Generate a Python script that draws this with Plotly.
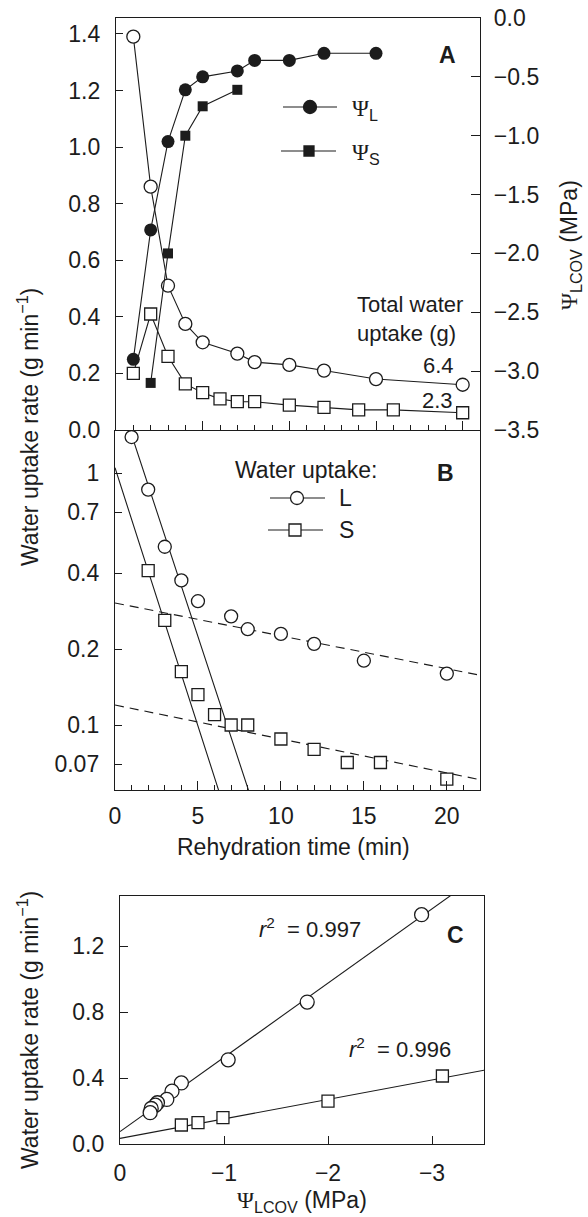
import numpy as np
import plotly.graph_objects as go

W, H = 588, 1217
# ---------------- data ----------------
t_L = [1, 2, 3, 4, 5, 7, 8, 10, 12, 15, 20]
rate_L = [1.39, 0.86, 0.51, 0.375, 0.31, 0.27, 0.24, 0.23, 0.21, 0.18, 0.16]
t_S = [1, 2, 3, 4, 5, 6, 7, 8, 10, 12, 14, 16, 20]
rate_S = [0.20, 0.41, 0.26, 0.163, 0.132, 0.11, 0.10, 0.10, 0.088, 0.08, 0.071, 0.071, 0.061]
t_psiL = [1, 2, 3, 4, 5, 7, 8, 10, 12, 15]
psi_L = [-2.90, -1.80, -1.05, -0.61, -0.50, -0.45, -0.36, -0.36, -0.30, -0.30]
t_psiS = [2, 3, 4, 5, 7]
psi_S = [-3.10, -2.00, -1.00, -0.75, -0.61]
total_uptake = ["6.4", "2.3"]

# panel C
psiC_L = [-2.90, -1.80, -1.04, -0.59, -0.50, -0.45, -0.36, -0.34, -0.30, -0.29]
rateC_L = [1.39, 0.86, 0.51, 0.37, 0.32, 0.27, 0.25, 0.235, 0.215, 0.19]
psiC_S = [-3.10, -2.00, -0.99, -0.75, -0.59]
rateC_S = [0.412, 0.26, 0.16, 0.13, 0.115]
r2_L, r2_S = "0.997", "0.996"

# fitted parameters (a, k) for y = a*exp(-k t)
fast_L = (2.25, 0.461)
slow_L = (0.305, 0.030)
fast_S = (1.05, 0.472)
slow_S = (0.12, 0.031)
# linear regressions in C: rate = b0 + b1*(-psi)
reg_L = (0.075, 0.450)
reg_S = (0.034, 0.118)

# ---------------- style ----------------
INK = "#1c1c1c"
FONT = "Liberation Sans, Arial, sans-serif"
SERIF = "Liberation Serif, Times New Roman, serif"
TICKF = 23


def px_x(p):
    return p / W


def px_y(p):
    return 1 - p / H


fig = go.Figure()

line = dict(color=INK, width=1.1)
open_c = dict(symbol="circle", size=13, color="white", line=dict(width=1.3, color=INK))
open_s = dict(symbol="square", size=12, color="white", line=dict(width=1.3, color=INK))

# Panel A
fig.add_trace(go.Scatter(x=t_L, y=rate_L, mode="lines+markers", line=line, marker=open_c,
                         xaxis="x", yaxis="y"))
fig.add_trace(go.Scatter(x=t_S, y=rate_S, mode="lines+markers", line=line, marker=open_s,
                         xaxis="x", yaxis="y"))
fig.add_trace(go.Scatter(x=t_psiL, y=psi_L, mode="lines+markers", line=line,
                         marker=dict(symbol="circle", size=13, color=INK),
                         xaxis="x", yaxis="y2"))
fig.add_trace(go.Scatter(x=t_psiS, y=psi_S, mode="lines+markers", line=line,
                         marker=dict(symbol="square", size=10, color=INK),
                         xaxis="x", yaxis="y2"))

# Panel B
tt = np.linspace(0, 22, 400)
for a, k in (fast_L, fast_S):
    fig.add_trace(go.Scatter(x=tt, y=a * np.exp(-k * tt), mode="lines", line=dict(color=INK, width=1.1),
                             xaxis="x2", yaxis="y3", hoverinfo="skip"))
for a, k in (slow_L, slow_S):
    fig.add_trace(go.Scatter(x=tt, y=a * np.exp(-k * tt), mode="lines",
                             line=dict(color=INK, width=1.1, dash="9px,6px"),
                             xaxis="x2", yaxis="y3", hoverinfo="skip"))
fig.add_trace(go.Scatter(x=t_L, y=rate_L, mode="markers", marker=open_c, xaxis="x2", yaxis="y3"))
fig.add_trace(go.Scatter(x=t_S[1:], y=rate_S[1:], mode="markers", marker=open_s, xaxis="x2", yaxis="y3"))

# Panel C
pp = np.linspace(0, -3.5, 50)
for b0, b1 in (reg_L, reg_S):
    fig.add_trace(go.Scatter(x=pp, y=b0 - b1 * pp, mode="lines", line=dict(color=INK, width=1.1),
                             xaxis="x3", yaxis="y4", hoverinfo="skip"))
fig.add_trace(go.Scatter(x=psiC_L, y=rateC_L, mode="markers", marker=dict(open_c, size=14),
                         xaxis="x3", yaxis="y4"))
fig.add_trace(go.Scatter(x=psiC_S, y=rateC_S, mode="markers", marker=open_s, xaxis="x3", yaxis="y4"))

axis_common = dict(showline=True, linecolor=INK, linewidth=1.4, ticks="inside", tickcolor=INK,
                   tickwidth=1.2, showgrid=False, zeroline=False,
                   tickfont=dict(family=FONT, size=TICKF, color=INK))

fig.update_layout(
    width=W, height=H, margin=dict(l=0, r=0, t=0, b=0, autoexpand=False),
    paper_bgcolor="white", plot_bgcolor="white", showlegend=False,
    font=dict(family=FONT, color=INK, size=22),
    xaxis=dict(axis_common, domain=[px_x(116), px_x(480)], range=[0, 21], anchor="y",
               tickvals=[0, 5, 10, 15, 20], showticklabels=False, ticklen=9, mirror=True,
               minor=dict(dtick=1, tick0=0, ticks="inside", ticklen=5, tickcolor=INK, tickwidth=1.1)),
    yaxis=dict(axis_common, domain=[px_y(430), px_y(18)], range=[0, 1.456], anchor="x",
               tickvals=[0, 0.2, 0.4, 0.6, 0.8, 1.0, 1.2, 1.4], tickformat=".1f", ticklen=7,
               ticklabelstandoff=10),
    yaxis2=dict(axis_common, overlaying="y", side="right", anchor="x", range=[-3.5, 0],
                tickvals=[0, -0.5, -1, -1.5, -2, -2.5, -3, -3.5], tickformat=".1f", ticklen=9,
                ticklabelstandoff=8),
    xaxis2=dict(axis_common, domain=[px_x(115), px_x(480)], range=[0, 22], anchor="y3",
                tickvals=[0, 5, 10, 15, 20], ticklen=9, ticklabelstandoff=5,
                minor=dict(dtick=1, tick0=0, ticks="inside", ticklen=5, tickcolor=INK, tickwidth=1.1)),
    yaxis3=dict(axis_common, type="log", domain=[px_y(790), px_y(430)], range=[-1.258, 0.171],
                anchor="x2", mirror=True, tickvals=[0.07, 0.1, 0.2, 0.4, 0.7, 1],
                ticktext=["0.07", "0.1", "0.2", "0.4", "0.7", "1"], ticklen=7, ticklabelstandoff=10),
    xaxis3=dict(axis_common, domain=[px_x(120), px_x(484)], range=[0, -3.5], anchor="y4",
                tickvals=[0, -1, -2, -3], ticklen=8, mirror=True, ticklabelstandoff=8),
    yaxis4=dict(axis_common, domain=[px_y(1144), px_y(896)], range=[0, 1.503], anchor="x3",
                tickvals=[0, 0.4, 0.8, 1.2], tickformat=".1f", ticklen=8, mirror=True,
                ticklabelstandoff=10),
)

ann = []
shapes = []


def A(text, x, y, **kw):
    d = dict(text=text, x=px_x(x), y=px_y(y), xref="paper", yref="paper", showarrow=False,
             xanchor="center", yanchor="middle",
             font=dict(family=FONT, size=kw.pop("size", 22), color=INK))
    d.update(kw)
    ann.append(d)


def key(x0, x1, y, mx, symbol, size, fill):
    """legend key: a line with a marker in the middle (paper coordinates from pixels)"""
    shapes.append(dict(type="line", xref="paper", yref="paper", x0=px_x(x0), x1=px_x(x1),
                       y0=px_y(y), y1=px_y(y), line=dict(color=INK, width=1.1)))
    r = size / 2
    shapes.append(dict(type=symbol, xref="paper", yref="paper", x0=px_x(mx - r), x1=px_x(mx + r),
                       y0=px_y(y + r), y1=px_y(y - r), fillcolor=fill,
                       line=dict(color=INK, width=1.3)))


# Legend panel A
key(283, 337, 107, 310, "circle", 13, INK)
key(281, 336, 151, 309, "rect", 10, INK)
A(f"<span style='font-family:{SERIF}'>Ψ</span><sub>L</sub>", 350, 110, xanchor="left", size=23)
A(f"<span style='font-family:{SERIF}'>Ψ</span><sub>S</sub>", 350, 154, xanchor="left", size=23)

# Legend panel B
A("Water uptake:", 233, 470, xanchor="left", size=23)
key(270, 325, 498, 297, "circle", 13, "white")
key(268, 323, 530, 295, "rect", 12, "white")
A("L", 337, 498, xanchor="left", size=23)
A("S", 337, 530, xanchor="left", size=23)

A("<b>A</b>", 447, 55, size=23)
A("<b>B</b>", 445, 473, size=23)
A("<b>C</b>", 455, 935, size=23)
A("Total water<br>uptake (g)", 355, 319, xanchor="left", align="left")
A(total_uptake[0], 438, 365)
A(total_uptake[1], 437, 400)
A("Water uptake rate (g min<sup>−1</sup>)", 28, 427, textangle=-90, size=23)
A(f"<span style='font-family:{SERIF}'>Ψ</span><sub>LCOV</sub> (MPa)", 570, 245, textangle=-90, size=23)
A("Rehydration time (min)", 293, 847, size=23)
A("Water uptake rate (g min<sup>−1</sup>)", 28, 1030, textangle=-90, size=23)
A(f"<span style='font-family:{SERIF}'>Ψ</span><sub>LCOV</sub> (MPa)", 302, 1201, size=23)
A(f"<i>r</i><sup>2</sup>  = {r2_L}", 310, 928)
A(f"<i>r</i><sup>2</sup>  = {r2_S}", 400, 1048)
fig.update_layout(annotations=ann, shapes=shapes)

fig.write_html("out.html", config={"displayModeBar": False},
               post_script="document.body.style.margin='0px';document.body.style.padding='0px';")
